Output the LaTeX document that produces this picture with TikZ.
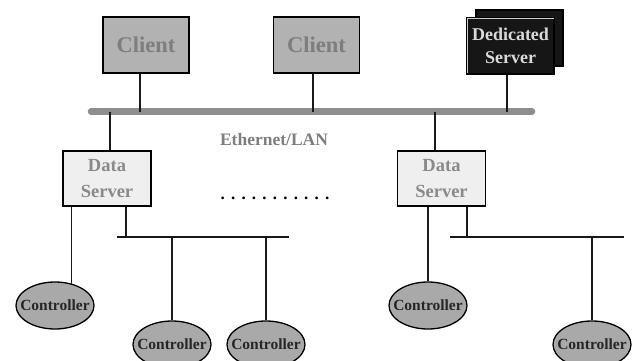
\documentclass[tikz,border=0pt]{standalone}
\usepackage{fontspec}
\setmainfont{Liberation Serif}
\usetikzlibrary{shapes.geometric}
\definecolor{clientfill}{HTML}{B2B2B2}
\definecolor{clienttext}{HTML}{7E7E7E}
\definecolor{dsfill}{HTML}{EFEFEF}
\definecolor{dstext}{HTML}{8A8A8A}
\definecolor{ctrlfill}{HTML}{A9A9A9}
\definecolor{busgray}{HTML}{8E8E8E}
\definecolor{srvblack}{HTML}{161616}
\definecolor{srvtext}{HTML}{DADADA}
\tikzset{
  clientbox/.style={draw=black, line width=1.6pt, fill=clientfill, rectangle,
    minimum width=86pt, minimum height=56pt, inner sep=0pt,
    font=\fontsize{22.5}{24}\selectfont\bfseries, text=clienttext},
  srvbox/.style={draw=black, line width=1.4pt, fill=srvblack, rectangle,
    minimum width=87pt, minimum height=56pt, inner sep=0pt},
  dsbox/.style={draw=black, line width=1.6pt, fill=dsfill, rectangle,
    minimum width=88pt, minimum height=55pt, inner sep=0pt, align=center,
    font=\fontsize{18.5}{26}\selectfont\bfseries, text=dstext},
  ctrl/.style={draw=black, line width=1.3pt, fill=ctrlfill, ellipse,
    minimum width=78pt, minimum height=47pt, inner sep=0pt},
  ctrltext/.style={inner sep=0pt, font=\fontsize{15.5}{16}\selectfont\bfseries, text=black!85},
  wire/.style={line width=1.6pt, black!90},
}
\begin{document}
\begin{tikzpicture}[x=1pt, y=-1pt]
\useasboundingbox (0,0) rectangle (635,361);

% clients and dedicated server
\node[clientbox] (c1) at (146,45) {Client};
\node[clientbox] (c2) at (316.5,45) {Client};
\node[srvbox] (srvback) at (519.5,38) {};
\node[srvbox, draw=black] (srv) at (510.5,46) {};
\draw[white!80!black, line width=0.6pt] ([xshift=1.2pt,yshift=1.2pt]srv.south west) -- ([xshift=1.2pt,yshift=-1.2pt]srv.north west) -- ([xshift=-1.2pt,yshift=-1.2pt]srv.north east);
\node[align=center, text=srvtext, font=\fontsize{18}{22.5}\selectfont\bfseries] (srvlabel) at (srv) {Dedicated\\Server};

% Ethernet backbone
\coordinate (busL) at (91,111.5);
\coordinate (busR) at (532,111.5);
\draw[busgray, line width=6.5pt, line cap=round] (busL) -- (busR);
\node[text=clienttext, font=\fontsize{17.5}{18}\selectfont\bfseries] (lan) at (274,140) {Ethernet/LAN};

\coordinate (b1) at (140,111.5);
\coordinate (b2) at (313,111.5);
\coordinate (b3) at (507,111.5);
\coordinate (b4) at (110,111.5);
\coordinate (b5) at (435,111.5);
\draw[wire] (c1.south -| b1) -- (b1);
\draw[wire] (c2.south -| b2) -- (b2);
\draw[wire] (srv.south -| b3) -- (b3);

% data servers
\node[dsbox] (ds1) at (107,178.5) {Data\\Server};
\node[dsbox] (ds2) at (441.5,178.5) {Data\\Server};
\draw[wire] (b4) -- (ds1.north -| b4);
\draw[wire] (b5) -- (ds2.north -| b5);

\node[font=\fontsize{17}{18}\selectfont\bfseries] (dots) at (275,198)
  {.\hspace{6.2pt}.\hspace{6.2pt}.\hspace{6.2pt}.\hspace{6.2pt}.\hspace{6.2pt}.\hspace{6.2pt}.\hspace{6.2pt}.\hspace{6.2pt}.\hspace{6.2pt}.\hspace{6.2pt}.};

% controllers
\node[ctrl] (k1) at (55,305.5) {};
\node[ctrl] (k2) at (172,344.5) {};
\node[ctrl] (k3) at (266,344.5) {};
\node[ctrl] (k4) at (428,305.5) {};
\node[ctrl] (k5) at (592,344.5) {};
\foreach \k in {k1,k2,k3,k4,k5}
  \node[ctrltext] (\k-label) at (\k) {Controller};

% field buses
\coordinate (f1L) at (117,237);
\coordinate (f1R) at (289,237);
\coordinate (f2L) at (450,237);
\coordinate (f2R) at (624,237);
\draw[wire] (f1L) -- (f1R);
\draw[wire] (f2L) -- (f2R);

\draw[wire] (k1.53 |- ds1.south) -- (k1.53);
\draw[wire] ([xshift=19pt]ds1.south) -- ([xshift=19pt]ds1.south |- f1L);
\draw[wire] (f1L -| k2.north) -- (k2.north);
\draw[wire] (f1L -| k3.north) -- (k3.north);

\draw[wire] (ds2.south -| k4.north) -- (k4.north);
\draw[wire] ([xshift=25.5pt]ds2.south) -- ([xshift=25.5pt]ds2.south |- f2L);
\draw[wire] (f2L -| k5.north) -- (k5.north);
\end{tikzpicture}
\end{document}
